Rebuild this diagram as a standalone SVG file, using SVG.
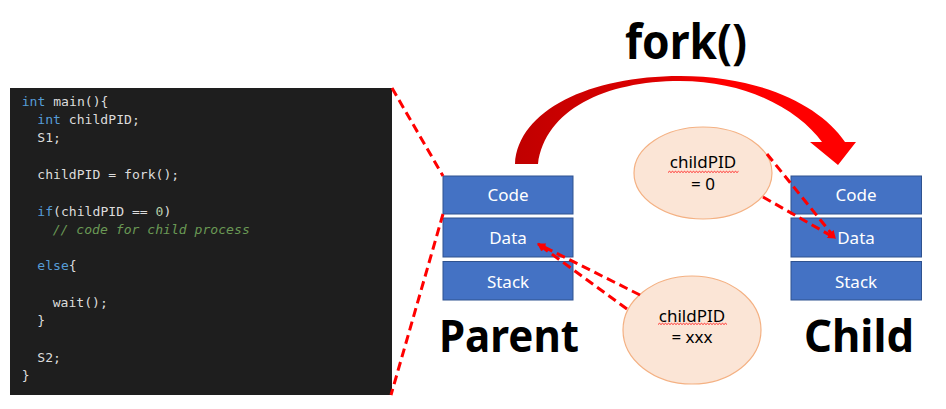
<svg xmlns="http://www.w3.org/2000/svg" width="946" height="409" viewBox="0 0 946 409">
<style>
.code{font-family:"DejaVu Sans Mono","Liberation Mono",monospace;font-size:13.1px;fill:#dcdcdc}
.kw{fill:#569cd6}
.num{fill:#b5cea8}
.cm{fill:#6a9955;font-style:italic}
.box{fill:#4472c4;stroke:#2f528f;stroke-width:1}
.blabel{font-family:"Noto Sans","Liberation Sans",sans-serif;font-size:17px;fill:#ffffff;text-anchor:middle}
.ell{fill:#fbe5d6;stroke:#f4b183;stroke-width:1.2}
.elabel{font-family:"Noto Sans","Liberation Sans",sans-serif;font-size:17px;fill:#000000;text-anchor:middle}
.big{font-family:"Noto Sans","Liberation Sans",sans-serif;font-weight:bold;fill:#000000}
.dash{fill:none;stroke:#ff0000;stroke-width:3;stroke-dasharray:9,5}
.wavy{fill:none;stroke:#ff0000;stroke-width:0.8}
</style>
<defs>
<linearGradient id="arcGrad" x1="0" y1="0" x2="1" y2="0">
<stop offset="0" stop-color="#c00000"/>
<stop offset="0.45" stop-color="#e00000"/>
<stop offset="0.6" stop-color="#ff0000"/>
<stop offset="1" stop-color="#ff0000"/>
</linearGradient>
<marker id="ah" markerWidth="8" markerHeight="8" refX="7" refY="4" orient="auto" markerUnits="userSpaceOnUse">
<path d="M0,0 L8,4 L0,8 Z" fill="#ff0000"/>
</marker>
</defs>
<rect width="946" height="409" fill="#ffffff"/>

<g id="code-panel">
<rect x="10" y="88" width="382" height="307" fill="#1e1e1e"/>
<text class="code" x="21.7" y="105.7"><tspan class="kw">int</tspan> main(){</text>
<text class="code" x="37.3" y="124"><tspan class="kw">int</tspan> childPID;</text>
<text class="code" x="37.3" y="142.3">S1;</text>
<text class="code" x="37.3" y="178.9">childPID = fork();</text>
<text class="code" x="37.3" y="215.5"><tspan class="kw">if</tspan>(childPID == <tspan class="num">0</tspan>)</text>
<text class="code cm" x="52.7" y="233.8">// code for child process</text>
<text class="code" x="37.3" y="270.4"><tspan class="kw">else</tspan>{</text>
<text class="code" x="52.7" y="307">wait();</text>
<text class="code" x="37.3" y="325.3">}</text>
<text class="code" x="37.3" y="361.9">S2;</text>
<text class="code" x="21.7" y="380.2">}</text>
</g>

<g id="fork-arrow">
<path d="M515,164 C518,110 590,76 680,76 C760,76 820,105 845,142 L856,142 L838,165 L810,142 L822,142 C800,112 750,81 680,81 C605,81 545,110 538,164 Z" fill="url(#arcGrad)"/>
<text class="big" x="686" y="58.5" font-size="48" text-anchor="middle" textLength="122" lengthAdjust="spacingAndGlyphs">fork()</text>
</g>

<g id="parent">
<rect class="box" x="443" y="176" width="130" height="38"/>
<text class="blabel" x="508" y="201">Code</text>
<rect class="box" x="443" y="218" width="130" height="39"/>
<text class="blabel" x="508" y="244">Data</text>
<rect class="box" x="443" y="261.5" width="130" height="38.5"/>
<text class="blabel" x="508" y="287.5">Stack</text>
<text class="big" x="509" y="351.7" font-size="44" text-anchor="middle" textLength="140" lengthAdjust="spacingAndGlyphs">Parent</text>
</g>

<g id="child">
<rect class="box" x="791" y="176" width="130.5" height="38"/>
<text class="blabel" x="856" y="201">Code</text>
<rect class="box" x="791" y="218" width="130.5" height="39"/>
<text class="blabel" x="856" y="244">Data</text>
<rect class="box" x="791" y="261.5" width="130.5" height="38.5"/>
<text class="blabel" x="856" y="287.5">Stack</text>
<text class="big" x="859" y="351.7" font-size="44" text-anchor="middle" textLength="110" lengthAdjust="spacingAndGlyphs">Child</text>
</g>

<g id="childpid-zero">
<ellipse class="ell" cx="703" cy="173" rx="69" ry="46"/>
<text class="elabel" x="703" y="168">childPID</text>
<path class="wavy" d="M668,172.5 l1.5,-1.2 l1.5,1.2 l1.5,-1.2 l1.5,1.2 l1.5,-1.2 l1.5,1.2 l1.5,-1.2 l1.5,1.2 l1.5,-1.2 l1.5,1.2 l1.5,-1.2 l1.5,1.2 l1.5,-1.2 l1.5,1.2 l1.5,-1.2 l1.5,1.2 l1.5,-1.2 l1.5,1.2 l1.5,-1.2 l1.5,1.2 l1.5,-1.2 l1.5,1.2 l1.5,-1.2 l1.5,1.2 l1.5,-1.2 l1.5,1.2 l1.5,-1.2 l1.5,1.2 l1.5,-1.2 l1.5,1.2 l1.5,-1.2 l1.5,1.2 l1.5,-1.2 l1.5,1.2 l1.5,-1.2 l1.5,1.2 l1.5,-1.2 l1.5,1.2 l1.5,-1.2 l1.5,1.2 l1.5,-1.2 l1.5,1.2 l1.5,-1.2 l1.5,1.2 l1.5,-1.2 l1.5,1.2 l1.5,-1.2"/>
<text class="elabel" x="703" y="190">= 0</text>
</g>

<g id="childpid-xxx">
<ellipse class="ell" cx="692" cy="330" rx="69" ry="54"/>
<text class="elabel" x="692" y="321.7">childPID</text>
<path class="wavy" d="M658,324.5 l1.5,-1.2 l1.5,1.2 l1.5,-1.2 l1.5,1.2 l1.5,-1.2 l1.5,1.2 l1.5,-1.2 l1.5,1.2 l1.5,-1.2 l1.5,1.2 l1.5,-1.2 l1.5,1.2 l1.5,-1.2 l1.5,1.2 l1.5,-1.2 l1.5,1.2 l1.5,-1.2 l1.5,1.2 l1.5,-1.2 l1.5,1.2 l1.5,-1.2 l1.5,1.2 l1.5,-1.2 l1.5,1.2 l1.5,-1.2 l1.5,1.2 l1.5,-1.2 l1.5,1.2 l1.5,-1.2 l1.5,1.2 l1.5,-1.2 l1.5,1.2 l1.5,-1.2 l1.5,1.2 l1.5,-1.2 l1.5,1.2 l1.5,-1.2 l1.5,1.2 l1.5,-1.2 l1.5,1.2 l1.5,-1.2 l1.5,1.2 l1.5,-1.2 l1.5,1.2 l1.5,-1.2 l1.5,1.2"/>
<text class="elabel" x="692" y="343">= xxx</text>
</g>

<g id="connectors">
<line class="dash" x1="392" y1="88" x2="443" y2="176"/>
<line class="dash" x1="443" y1="214" x2="391" y2="395"/>
<line class="dash" x1="640" y1="295" x2="538" y2="244" marker-end="url(#ah)"/>
<line class="dash" x1="627" y1="309" x2="538" y2="244" marker-end="url(#ah)"/>
<line class="dash" x1="767" y1="154" x2="835" y2="238" marker-end="url(#ah)"/>
<line class="dash" x1="763" y1="197" x2="835" y2="238" marker-end="url(#ah)"/>
</g>
</svg>
